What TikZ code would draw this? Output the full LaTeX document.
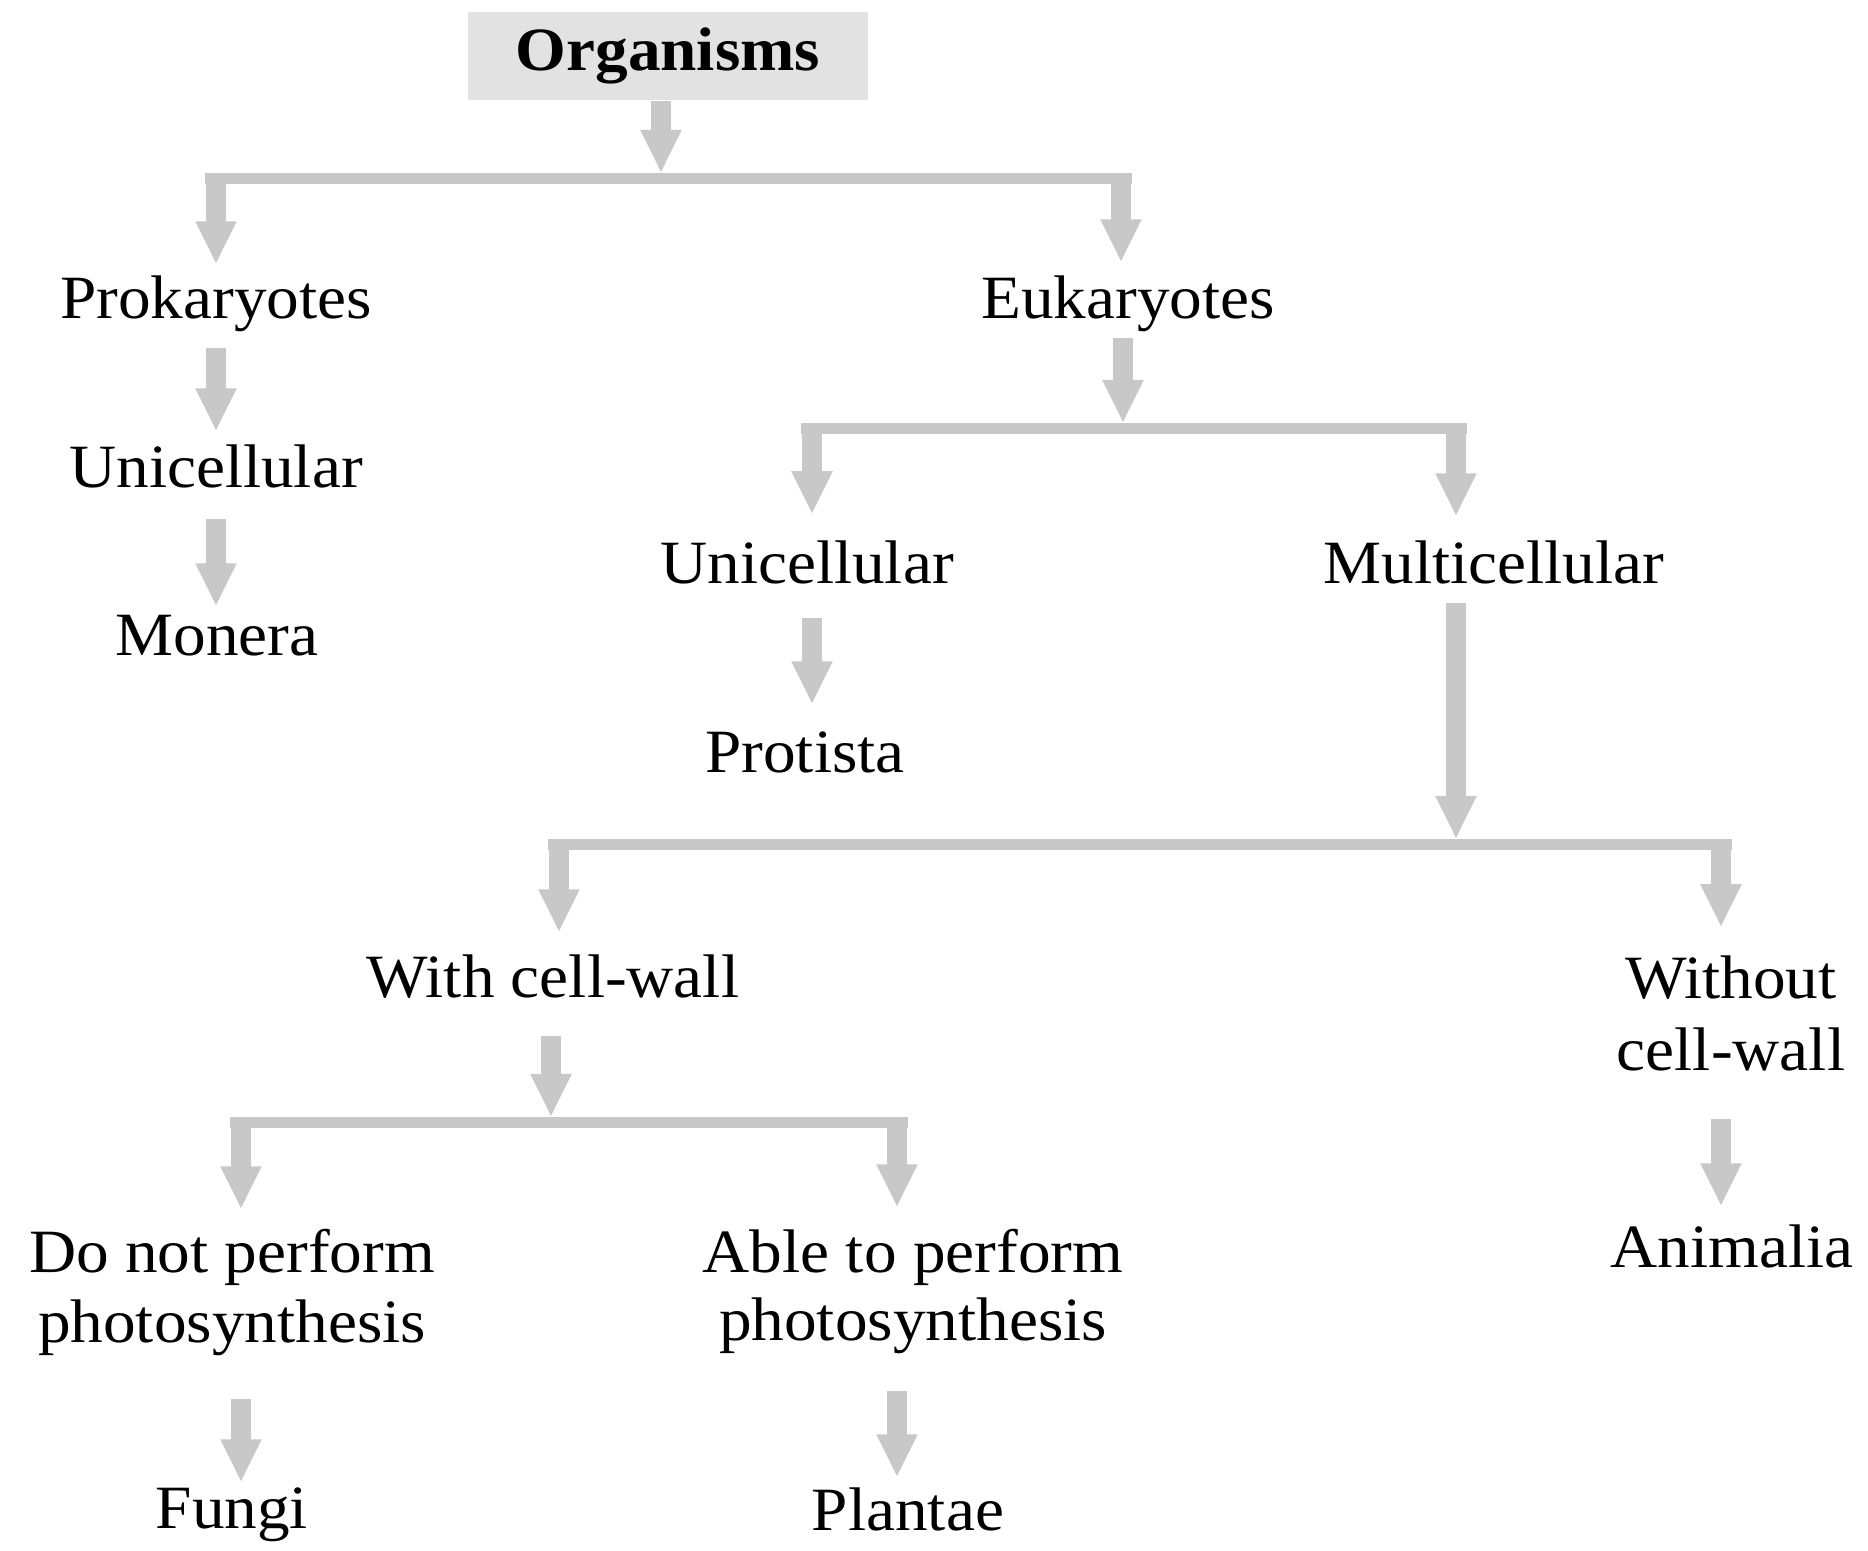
\documentclass[tikz,border=0pt]{standalone}
\usepackage{fontspec}
\setmainfont[FakeStretch=1.06]{Liberation Serif}
\usetikzlibrary{arrows.meta}
\definecolor{cgray}{HTML}{C8C8C8}
\definecolor{boxgray}{HTML}{E2E2E2}
\begin{document}
\begin{tikzpicture}[x=0.01cm,y=-0.01cm,
  lbl/.style={font=\fontsize{17.5pt}{20pt}\selectfont, inner sep=0pt, text height=0.40cm, text depth=0.12cm, anchor=base},
  topbox/.style={font=\fontsize{17.5pt}{20pt}\selectfont\bfseries, fill=boxgray, inner sep=0pt, minimum width=4.0cm, minimum height=0.88cm, text height=0.42cm, text depth=0.14cm},
  arr/.style={draw=cgray, line width=0.2cm, line cap=butt, -{Triangle[width=0.38cm,length=0.43cm]}},
  barfill/.style={fill=cgray}]
\useasboundingbox (0,0) rectangle (1868,1550);

% nodes
\node[topbox] (org) at (668,56) {Organisms};
\node[lbl] (pro) at (216,318) {Prokaryotes};
\node[lbl] (euk) at (1128,318) {Eukaryotes};
\node[lbl] (uniL) at (216,487) {Unicellular};
\node[lbl] (mon) at (217,655) {Monera};
\node[lbl] (uniR) at (807,583) {Unicellular};
\node[lbl] (multi) at (1494,583) {Multicellular};
\node[lbl] (prot) at (805,772) {Protista};
\node[lbl] (wcw) at (553,997) {With cell-wall};
\node[lbl] (wocw1) at (1731,998) {Without};
\node[lbl] (wocw2) at (1731,1070) {cell-wall};
\node[lbl] (dnp1) at (232,1272) {Do not perform};
\node[lbl] (dnp2) at (232,1342) {photosynthesis};
\node[lbl] (atp1) at (913,1272) {Able to perform};
\node[lbl] (atp2) at (913,1340) {photosynthesis};
\node[lbl] (fungi) at (232,1528) {Fungi};
\node[lbl] (plant) at (908,1530) {Plantae};
\node[lbl] (anim) at (1732,1267) {Animalia};

% junction coordinates (top of each bar)
\coordinate (j1) at (661,173);
\coordinate (b1L) at (216,173);
\coordinate (b1R) at (1121,173);
\coordinate (j2) at (1123,423);
\coordinate (b2L) at (812,423);
\coordinate (b2R) at (1456,423);
\coordinate (j3) at (1456,839);
\coordinate (b3L) at (559,839);
\coordinate (b3R) at (1721,839);
\coordinate (j4) at (551,1117);
\coordinate (b4L) at (241,1117);
\coordinate (b4R) at (897,1117);

% bars
\fill[barfill] ([xshift=-0.105cm]b1L) rectangle ([xshift=0.105cm,yshift=-0.105cm]b1R);
\fill[barfill] ([xshift=-0.105cm]b2L) rectangle ([xshift=0.105cm,yshift=-0.105cm]b2R);
\fill[barfill] ([xshift=-0.105cm]b3L) rectangle ([xshift=0.105cm,yshift=-0.105cm]b3R);
\fill[barfill] ([xshift=-0.105cm]b4L) rectangle ([xshift=0.105cm,yshift=-0.105cm]b4R);

% arrows into bars
\draw[arr] (org.south -| j1) -- (j1);
\draw[arr, shorten <=0.07cm] (euk.south -| j2) -- (j2);
\draw[arr, shorten <=0.07cm] (multi.south -| j3) -- (j3);
\draw[arr, shorten <=0.26cm] (wcw.south -| j4) -- (j4);

% drops from bars
\draw[arr, shorten >=0.13cm] (b1L) -- (b1L |- pro.north);
\draw[arr, shorten >=0.15cm] (b1R) -- (b1R |- euk.north);
\draw[arr, shorten >=0.28cm] (b2L) -- (b2L |- uniR.north);
\draw[arr, shorten >=0.26cm] (b2R) -- (b2R |- multi.north);
\draw[arr, shorten >=0.24cm] (b3L) -- (b3L |- wcw.north);
\draw[arr, shorten >=0.30cm] (b3R) -- (b3R |- wocw1.north);
\draw[arr, shorten >=0.22cm] (b4L) -- (b4L |- dnp1.north);
\draw[arr, shorten >=0.24cm] (b4R) -- (b4R |- atp1.north);

% straight arrows
\draw[arr, shorten <=0.17cm, shorten >=0.15cm] (pro.south -| b1L) -- (b1L |- uniL.north);
\draw[arr, shorten <=0.19cm, shorten >=0.08cm] (uniL.south -| b1L) -- (b1L |- mon.north);
\draw[arr, shorten <=0.22cm, shorten >=0.27cm] (uniR.south -| b2L) -- (b2L |- prot.north);
\draw[arr, shorten <=0.36cm, shorten >=0.20cm] (wocw2.south -| b3R) -- (b3R |- anim.north);
\draw[arr, shorten <=0.44cm, shorten >=0.05cm] (dnp2.south -| b4L) -- (b4L |- fungi.north);
\draw[arr, shorten <=0.38cm, shorten >=0.12cm] (atp2.south -| b4R) -- (b4R |- plant.north);
\end{tikzpicture}
\end{document}
